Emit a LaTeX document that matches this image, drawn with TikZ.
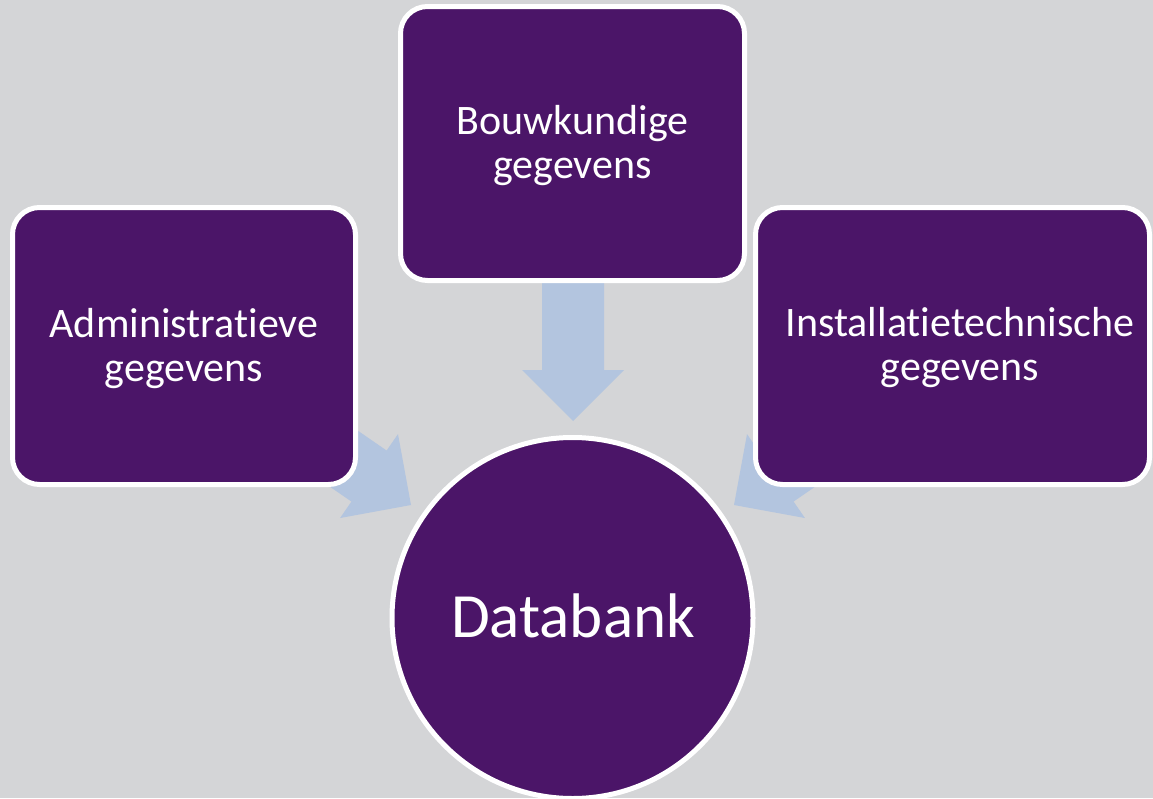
\documentclass[tikz,border=0pt]{standalone}
\usepackage{fontspec}
\setmainfont{Carlito}[RawFeature=-liga]
\definecolor{bg}{HTML}{D4D5D7}
\definecolor{purp}{HTML}{4B1568}
\definecolor{arr}{HTML}{B3C5DF}
\begin{document}
\begin{tikzpicture}[x=1pt,y=-1pt,
  box/.style={draw=white, line width=5pt, fill=purp, rounded corners=27pt,
    inner sep=0pt, outer sep=0pt},
  boxtext/.style={text=white, align=center, inner sep=0pt,
    font=\fontsize{42}{44}\selectfont},
  bigarrow/.style={fill=arr, draw=none}]
\useasboundingbox[fill=bg] (0,0) rectangle (1153,798);
% arrows (drawn first, boxes on top)
\coordinate (tipT) at (573,421);
\coordinate (tipL) at (411,505);
\coordinate (tipR) at (734,505);
\begin{scope}[shift={(tipT)}, rotate=-90]
  \fill[bigarrow] (0,0) -- (-51,51) -- (-51,31) -- (-140,31) -- (-140,-31) -- (-51,-31) -- (-51,-51) -- cycle;
\end{scope}
\begin{scope}[shift={(tipL)}, rotate=-34.6]
  \fill[bigarrow] (0,0) -- (-51,51) -- (-51,31) -- (-150,31) -- (-150,-31) -- (-51,-31) -- (-51,-51) -- cycle;
\end{scope}
\begin{scope}[shift={(tipR)}, rotate=-145.4]
  \fill[bigarrow] (0,0) -- (-51,51) -- (-51,31) -- (-150,31) -- (-150,-31) -- (-51,-31) -- (-51,-51) -- cycle;
\end{scope}
% boxes
\node[box, minimum width=343pt, minimum height=277pt] (adm) at (184,346) {};
\node[boxtext] (admtxt) at (184,349) {Administratieve\\gegevens};
\node[box, minimum width=344pt, minimum height=274pt] (bouw) at (572.5,143.5) {};
\node[boxtext] (bouwtxt) at (572.5,146) {Bouwkundige\\gegevens};
\node[box, minimum width=394pt, minimum height=277pt] (inst) at (952.5,346) {};
\node[boxtext] (insttxt) at (960,348) {Installatietechnische\\gegevens};
% circle
\node[circle, draw=white, line width=5pt, fill=purp, minimum size=361pt,
  inner sep=0pt, outer sep=0pt] (db) at (572.5,618) {};
\node[text=white, inner sep=0pt, font=\fontsize{63}{70}\selectfont] (dbtxt) at (573,616) {Databank};
\end{tikzpicture}
\end{document}
